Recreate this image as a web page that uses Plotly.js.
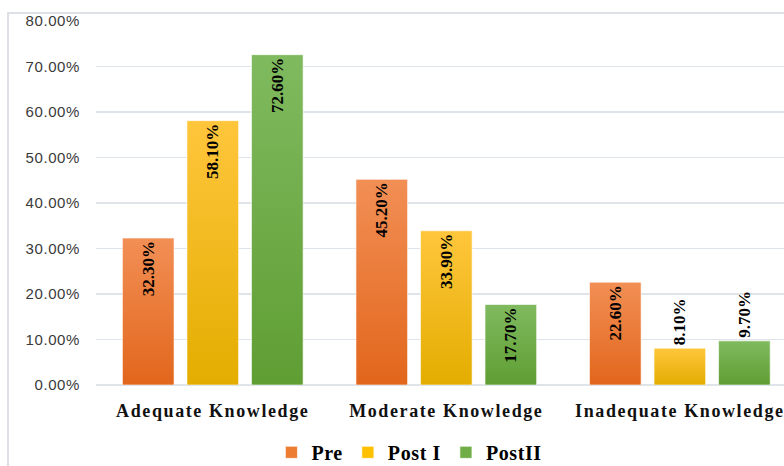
<!DOCTYPE html>
<html>
<head>
<meta charset="utf-8">
<script src="https://cdn.plot.ly/plotly-3.0.1.min.js"></script>
<style>
html,body{margin:0;padding:0;background:#fff;overflow:hidden;}
#chart{width:784px;height:466px;position:absolute;left:0;top:0;}
#frame{position:absolute;left:7px;top:12px;width:800px;height:470px;border-left:2px solid #dde0e6;border-top:2px solid #dde0e6;pointer-events:none;}
.xtick text{letter-spacing:1.6px;}
.ytick text{letter-spacing:0.6px;}
.legendtext{letter-spacing:0.6px;}
</style>
</head>
<body>
<div id="chart"></div>
<div id="frame"></div>
<script>
const categories = ["Adequate Knowledge", "Moderate Knowledge", "Inadequate Knowledge"];
const seriesNames = ["Pre", "Post I", "PostII"];
const preValues = [32.3, 45.2, 22.6];
const post1Values = [58.1, 33.9, 8.1];
const post2Values = [72.6, 17.7, 9.7];
const yTickValues = [0, 10, 20, 30, 40, 50, 60, 70, 80];
const yTickLabels = yTickValues.map(v => v.toFixed(2) + "%");

const baseColors = ["#ED7D31", "#FFC000", "#70AD47"];
const gradStops = [["#F28F55", "#E2661C"], ["#FFC63C", "#E3AD00"], ["#80BA5F", "#5F9E33"]];
const allValues = [preValues, post1Values, post2Values];

const traces = allValues.map((vals, i) => ({
  type: "bar",
  name: seriesNames[i],
  x: categories,
  y: vals,
  marker: {color: baseColors[i], line: {color: "rgba(255,255,255,0.6)", width: 1}},
  texttemplate: vals.map(v => v < 15 ? "%{y:.2f}%\u00a0\u00a0" : "%{y:.2f}%"),
  textangle: -90,
  textposition: vals.map(v => v < 15 ? "outside" : "inside"),
  insidetextanchor: "end",
  constraintext: "none",
  cliponaxis: false,
  textfont: {family: "Liberation Serif, Times New Roman, serif", size: 17, color: "#000", weight: "bold"},
  hoverinfo: "none"
}));

const layout = {
  width: 784,
  height: 466,
  margin: {l: 96, r: 0, t: 21, b: 81, autoexpand: false},
  paper_bgcolor: "#fff",
  plot_bgcolor: "#fff",
  barmode: "group",
  bargap: 0.171,
  bargroupgap: 0.2,
  showlegend: true,
  legend: {
    orientation: "h",
    x: 0.255, xanchor: "left",
    y: -0.185, yanchor: "middle",
    font: {family: "Liberation Serif, Times New Roman, serif", size: 20, color: "#000", weight: "bold"},
    itemclick: false
  },
  xaxis: {
    type: "category",
    range: [-0.5, 2.446],
    showgrid: false,
    showline: false,
    zeroline: false,
    ticks: "outside",
    ticklen: 9,
    tickcolor: "rgba(0,0,0,0)",
    tickfont: {family: "Liberation Serif, Times New Roman, serif", size: 18, color: "#111", weight: "bold"}
  },
  yaxis: {
    range: [0, 80],
    tickmode: "array",
    tickvals: yTickValues,
    ticktext: yTickLabels,
    showgrid: true,
    gridcolor: "#dfe3ea",
    gridwidth: 1.5,
    zeroline: true,
    zerolinecolor: "#dfe3ea",
    zerolinewidth: 1.5,
    showline: false,
    ticks: "outside",
    ticklen: 12,
    tickcolor: "rgba(0,0,0,0)",
    tickfont: {family: "Liberation Sans, Arial, sans-serif", size: 15, color: "#3a3a3a"}
  }
};

Plotly.newPlot("chart", traces, layout, {displayModeBar: false, staticPlot: true}).then(gd => {
  const svg = gd.querySelector("svg.main-svg");
  const ns = "http://www.w3.org/2000/svg";
  let defs = svg.querySelector("defs");
  if (!defs) { defs = document.createElementNS(ns, "defs"); svg.insertBefore(defs, svg.firstChild); }
  gradStops.forEach((st, i) => {
    const lg = document.createElementNS(ns, "linearGradient");
    lg.setAttribute("id", "bargrad" + i);
    lg.setAttribute("x1", "0"); lg.setAttribute("y1", "0");
    lg.setAttribute("x2", "0"); lg.setAttribute("y2", "1");
    [[0, st[0]], [1, st[1]]].forEach(([o, c]) => {
      const s = document.createElementNS(ns, "stop");
      s.setAttribute("offset", o); s.setAttribute("stop-color", c);
      lg.appendChild(s);
    });
    defs.appendChild(lg);
  });
  gd.querySelectorAll(".barlayer .trace.bars").forEach((tr, i) => {
    tr.querySelectorAll(".point path").forEach(p => { p.style.fill = "url(#bargrad" + i + ")"; });
  });
});
</script>
</body>
</html>
